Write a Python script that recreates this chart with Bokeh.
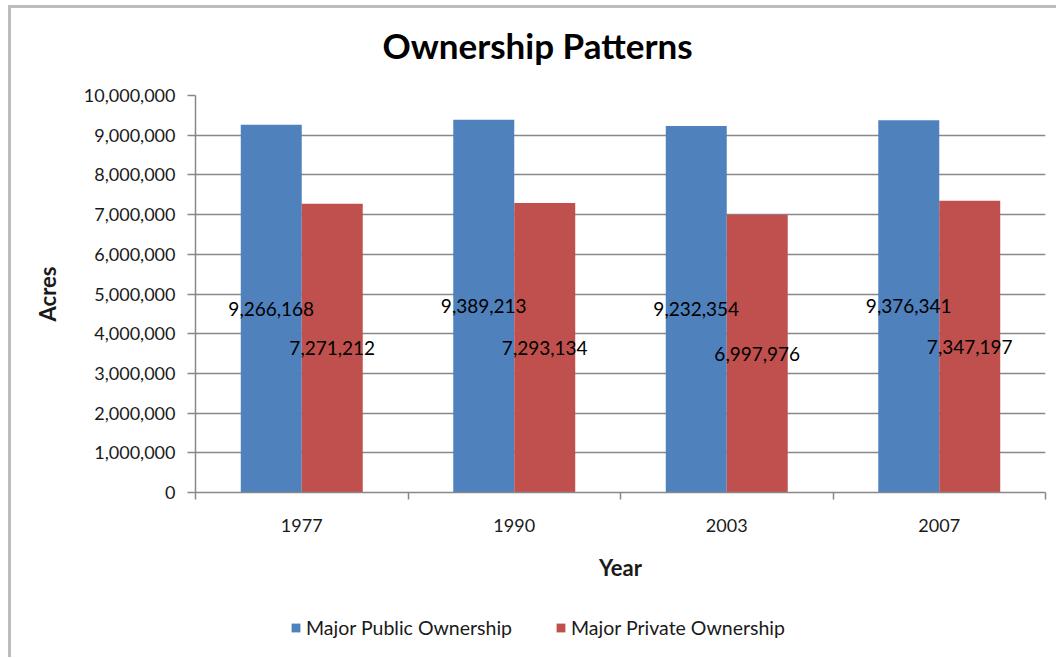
from bokeh.plotting import figure
from bokeh.layouts import column
from bokeh.models import (Range1d, FixedTicker, NumeralTickFormatter, Legend,
                          LegendItem, ColumnDataSource, Plot, VBar, Label)
from bokeh.embed import file_html
from bokeh.resources import INLINE
from bokeh.core.properties import value

# ---- data ----
title_text = "Ownership Patterns"
years = ["1977", "1990", "2003", "2007"]
public = [9266168, 9389213, 9232354, 9376341]
private = [7271212, 7293134, 6997976, 7347197]
series_names = ["Major Public Ownership", "Major Private Ownership"]
colors = ["#4F81BD", "#C0504D"]
y_ticks = [0, 1000000, 2000000, 3000000, 4000000, 5000000,
           6000000, 7000000, 8000000, 9000000, 10000000]

FONT = "Lato"
GRID = "#888888"
TXT = "#1A1A1A"

n = len(years)
centers = [i + 0.5 for i in range(n)]
bw = 0.287
off = bw / 2

src_pub = ColumnDataSource(dict(
    x=[c - off for c in centers], top=public, mid=[v / 2 for v in public],
    lab=[f"{v:,}" for v in public]))
src_pri = ColumnDataSource(dict(
    x=[c + off for c in centers], top=private, mid=[v / 2 for v in private],
    lab=[f"{v:,}" for v in private]))

# ---- title strip ----
tp = Plot(width=1045, height=60, output_backend="svg", toolbar_location=None,
          x_range=Range1d(0, 1), y_range=Range1d(0, 1),
          min_border_left=0, min_border_right=0, min_border_top=0,
          min_border_bottom=0, outline_line_color=None,
          border_fill_color="white", background_fill_color="white")
tp.add_layout(Label(x=342, y=24, x_units="screen", y_units="screen",
                    text=title_text, text_align="center", text_baseline="middle",
                    text_font=FONT, text_font_size="35px", text_font_style="bold",
                    text_color="black"))

# ---- main chart ----
p = figure(width=1045, height=540, output_backend="svg", toolbar_location=None,
           x_range=Range1d(0, n), y_range=Range1d(0, 10000000),
           min_border_left=184, min_border_right=11, min_border_top=27,
           min_border_bottom=116)
p.outline_line_color = None
p.background_fill_color = "white"
p.border_fill_color = "white"

p.vbar(x="x", top="top", width=bw, source=src_pub, fill_color=colors[0],
       line_color=None)
p.vbar(x="x", top="top", width=bw, source=src_pri, fill_color=colors[1],
       line_color=None)

for src in (src_pub, src_pri):
    p.text(x="x", y="mid", text="lab", source=src, text_align="center",
           text_baseline="middle", text_font=value(FONT),
           text_font_size="19px", text_color="black")

# y axis
ya = p.yaxis[0]
ya.ticker = FixedTicker(ticks=y_ticks, minor_ticks=[])
ya.formatter = NumeralTickFormatter(format="0,0")
ya.axis_line_color = GRID
ya.axis_line_width = 1.5
ya.major_tick_line_color = GRID
ya.major_tick_line_width = 1.5
ya.major_tick_out = 8
ya.major_tick_in = 0
ya.minor_tick_line_color = None
ya.major_label_standoff = 12
ya.major_label_text_font = FONT
ya.major_label_text_font_size = "18px"
ya.major_label_text_color = TXT
ya.axis_label = "Acres"
ya.axis_label_text_font = FONT
ya.axis_label_text_font_size = "22px"
ya.axis_label_text_font_style = "bold"
ya.axis_label_text_color = TXT
ya.axis_label_standoff = 20

# x axis
xa = p.xaxis[0]
xa.ticker = FixedTicker(ticks=centers, minor_ticks=list(range(n + 1)))
xa.major_label_overrides = {c: y for c, y in zip(centers, years)}
xa.axis_line_color = GRID
xa.axis_line_width = 1.5
xa.major_tick_out = 0
xa.major_tick_in = 0
xa.major_tick_line_color = None
xa.minor_tick_line_color = GRID
xa.minor_tick_line_width = 1.5
xa.minor_tick_out = 7
xa.minor_tick_in = 0
xa.major_label_standoff = 19
xa.major_label_text_font = FONT
xa.major_label_text_font_size = "18px"
xa.major_label_text_color = TXT
xa.axis_label = "Year"
xa.axis_label_text_font = FONT
xa.axis_label_text_font_size = "22px"
xa.axis_label_text_font_style = "bold"
xa.axis_label_text_color = TXT
xa.axis_label_standoff = 19

p.xgrid.grid_line_color = None
p.ygrid.ticker = FixedTicker(ticks=y_ticks)
p.ygrid.grid_line_color = GRID
p.ygrid.grid_line_width = 1.5

# ---- legend strip (separate plot so the legend is not clipped) ----
# the same series feed the legend; their glyphs here are hidden
lg = Plot(width=1045, height=49, output_backend="svg", toolbar_location=None,
          x_range=Range1d(100, 101), y_range=Range1d(0, 1),
          min_border_left=0, min_border_right=0, min_border_top=0,
          min_border_bottom=0, outline_line_color=None,
          border_fill_color="white", background_fill_color="white")
g1 = lg.add_glyph(src_pub, VBar(x="x", top="top", width=bw,
                                fill_color=colors[0], line_color=None))
g2 = lg.add_glyph(src_pri, VBar(x="x", top="top", width=bw,
                                fill_color=colors[1], line_color=None))
g1.visible = False
g2.visible = False

legend = Legend(items=[LegendItem(label=series_names[0], renderers=[g1]),
                       LegendItem(label=series_names[1], renderers=[g2])],
                orientation="horizontal", location=(95, 18))
legend.glyph_width = 11
legend.glyph_height = 11
legend.label_standoff = 5
legend.spacing = 43
legend.padding = 0
legend.margin = 0
legend.border_line_color = None
legend.background_fill_alpha = 0
legend.inactive_fill_alpha = 0
legend.label_text_font = FONT
legend.label_text_font_size = "19.5px"
legend.label_text_color = TXT
lg.add_layout(legend, "center")

layout = column(tp, p, lg, spacing=0)
layout.styles = {"border-top": "3px solid #BDBDBD", "border-left": "3px solid #BDBDBD",
                 "margin-left": "8px", "margin-top": "5px"}

open("out.html", "w").write(file_html(layout, INLINE))
